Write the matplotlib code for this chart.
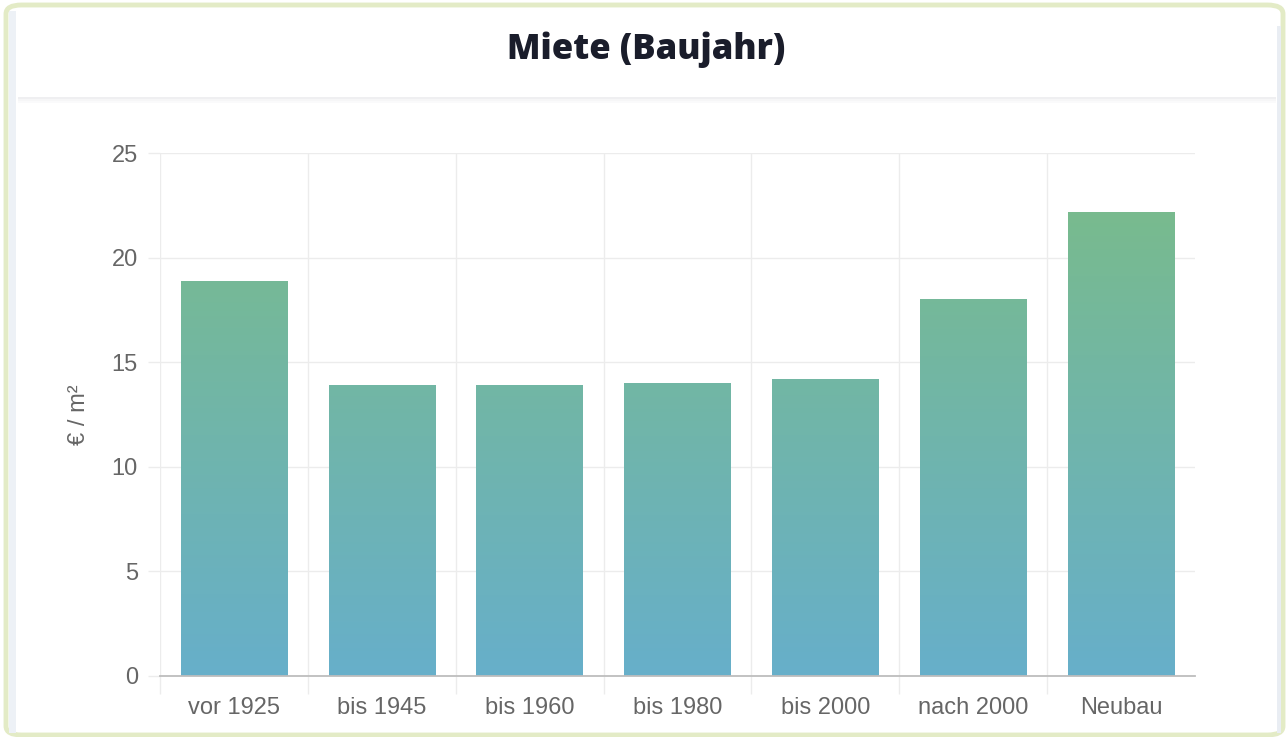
import matplotlib
matplotlib.use("Agg")
import matplotlib.pyplot as plt
import numpy as np
from matplotlib.colors import LinearSegmentedColormap
from matplotlib.patches import FancyBboxPatch, Rectangle

# data
categories = ["vor 1925", "bis 1945", "bis 1960", "bis 1980", "bis 2000", "nach 2000", "Neubau"]
rent = [18.9, 13.9, 13.9, 14.0, 14.2, 18.0, 22.2]
y_ticks = [0, 5, 10, 15, 20, 25]

W, H = 1288, 737
fig = plt.figure(figsize=(W / 100, H / 100), dpi=100)
fig.patch.set_facecolor("white")


def fx(px):
    return px / W


def fy(py):
    # pixel y measured from the top
    return 1 - py / H


# card frame
card = FancyBboxPatch((fx(6), fy(735)), fx(1277), 730 / H,
                      boxstyle="round,pad=0,rounding_size=0.012",
                      transform=fig.transFigure, facecolor="white",
                      edgecolor="#e3ebc6", linewidth=3.5, zorder=0)
fig.add_artist(card)
fig.add_artist(Rectangle((fx(9), fy(733)), fx(7), 722 / H, transform=fig.transFigure,
                         facecolor="#edf1f6", edgecolor="none", zorder=0.5))
fig.add_artist(Rectangle((fx(1277), fy(733)), fx(4), 707 / H, transform=fig.transFigure,
                         facecolor="#e9edf3", edgecolor="none", zorder=0.5))

# header separator with soft shadow
for i, a in enumerate([0.7, 0.4, 0.2]):
    fig.add_artist(Rectangle((fx(18), fy(99 + i * 2)), fx(1258), 2 / H, transform=fig.transFigure,
                             facecolor="#e9e9ec", alpha=a, edgecolor="none", zorder=0.6))

fig.text(0.502, fy(50), "Miete (Baujahr)", ha="center", va="center",
         fontsize=25, fontweight="heavy", family=["Open Sans", "DejaVu Sans"], color="#1a1d2b")

ax = fig.add_axes([fx(160), fy(676), fx(1195 - 160), (676 - 153) / H])
ax.set_facecolor("none")

x = np.arange(len(categories))
bars = ax.bar(x, rent, width=0.72, color="#6cb3b4", zorder=2)

cmap = LinearSegmentedColormap.from_list("miete", ["#67afca", "#79bb8c"])
grad = np.linspace(0, 1, 256).reshape(-1, 1)
for b in bars:
    x0, h = b.get_x(), b.get_height()
    vals = grad * h
    im = ax.imshow(vals, extent=[x0, x0 + b.get_width(), 0, h], origin="lower",
                   aspect="auto", cmap=cmap, vmin=0, vmax=23, zorder=3)
    im.set_clip_path(b)

ax.set_xlim(-0.5, len(categories) - 0.5)
ax.set_ylim(0, 25)

# grid
for yv in y_ticks[1:]:
    ax.axhline(yv, color="#ececec", lw=1, zorder=1)
for xv in np.arange(-0.5, len(categories) - 0.5, 1):
    ax.axvline(xv, color="#ececec", lw=1, zorder=1)

ax.set_yticks(y_ticks)
ax.set_xticks(x)
ax.set_xticklabels(categories)
ax.set_xticks(np.arange(-0.5, len(categories) - 0.5, 1), minor=True)
ax.tick_params(axis="x", which="major", length=0, pad=15, labelsize=17, labelcolor="#666666")
ax.tick_params(axis="x", which="minor", length=13, color="#ececec", width=1)
ax.tick_params(axis="y", length=9, color="#ececec", width=1, pad=7, labelsize=17, labelcolor="#666666")
for lab in ax.get_xticklabels() + ax.get_yticklabels():
    lab.set_family(["Liberation Sans", "DejaVu Sans"])

for s in ["top", "right", "left"]:
    ax.spines[s].set_visible(False)
ax.spines["bottom"].set_color("#bdbdbd")
ax.spines["bottom"].set_linewidth(1.3)
ax.spines["bottom"].set_zorder(4)

fig.text(fx(79), fy(415), "€ / m²", rotation=90, ha="center", va="center",
         fontsize=17, color="#666666", family=["Liberation Sans", "DejaVu Sans"])

fig.savefig("out.png", dpi=100)
